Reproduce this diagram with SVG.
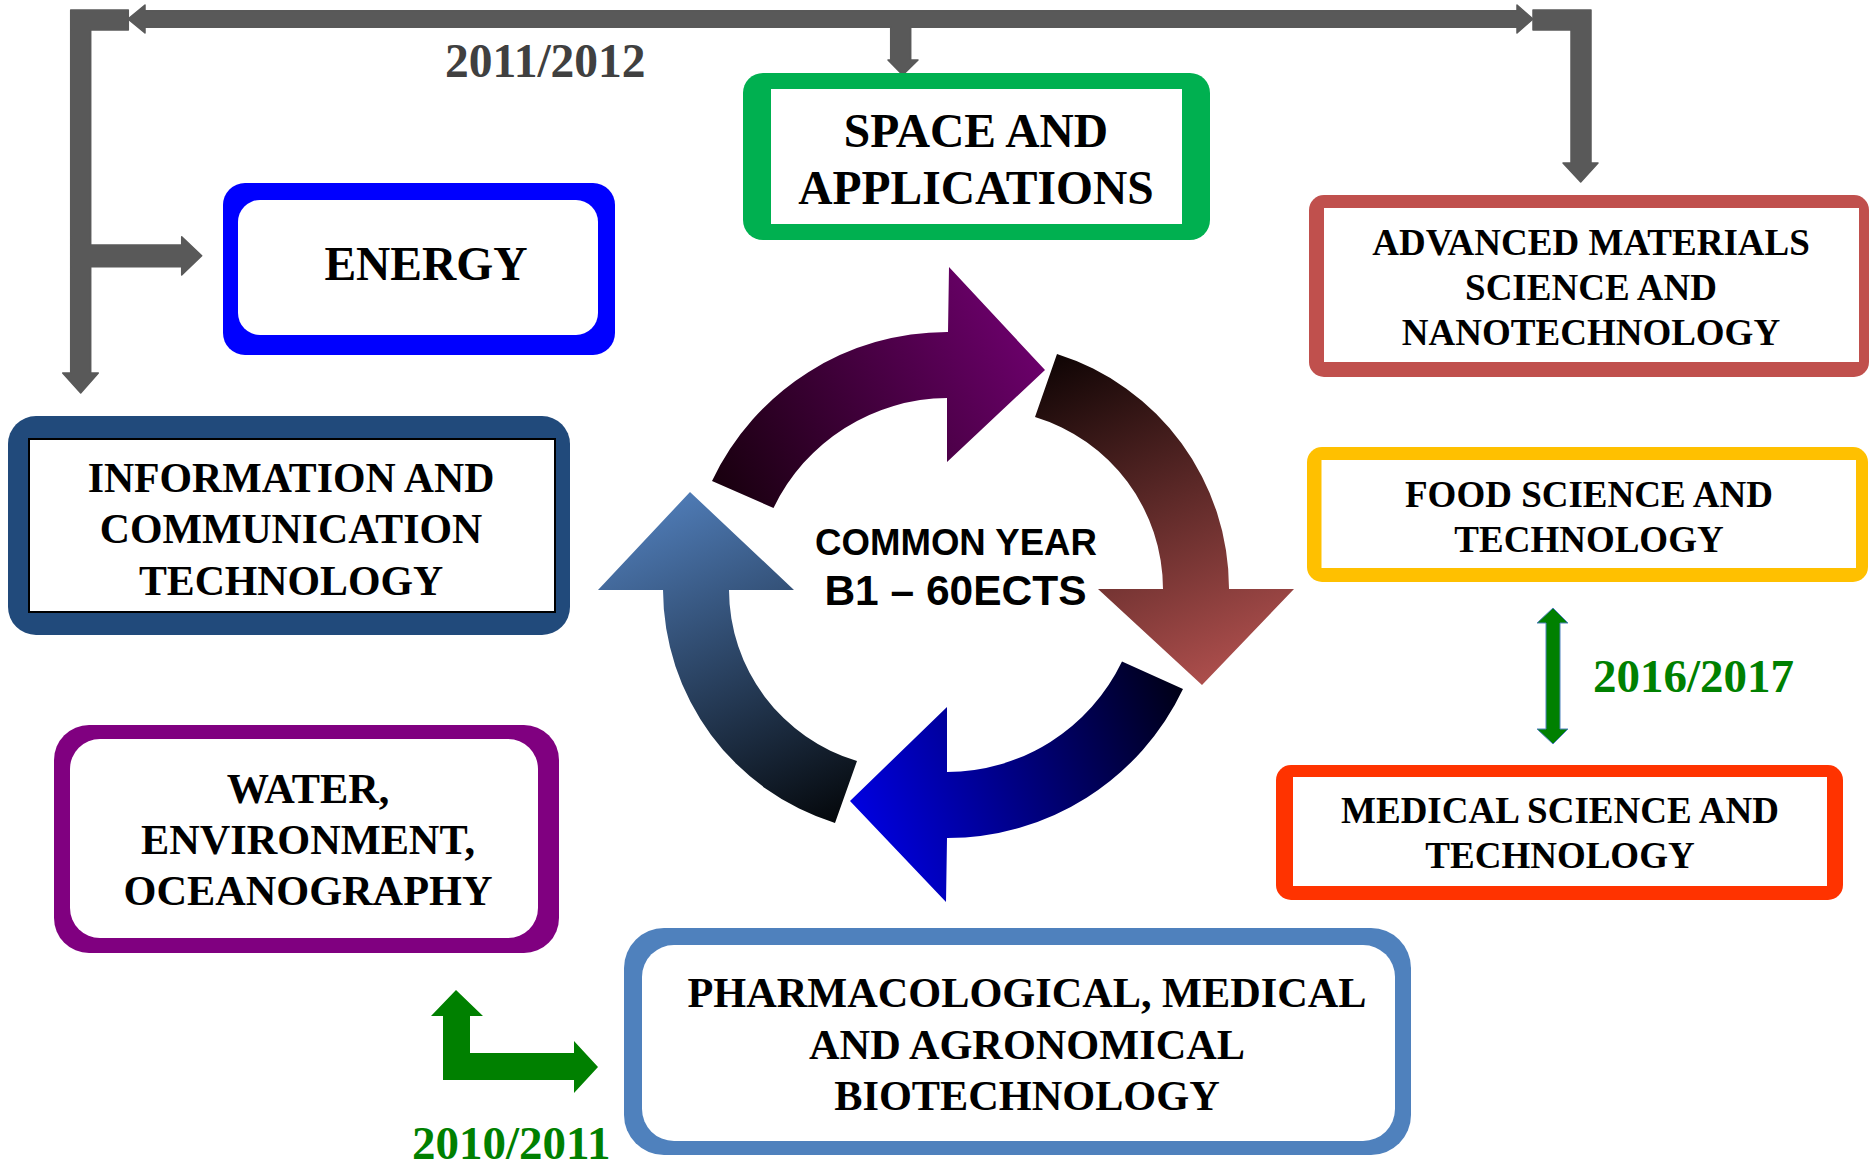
<svg xmlns="http://www.w3.org/2000/svg" width="1870" height="1163" viewBox="0 0 1870 1163">
<style>
.lbl{font-family:"Liberation Serif","Times New Roman",serif;font-weight:bold;fill:#000;text-anchor:middle}
.yr{font-family:"Liberation Serif","Times New Roman",serif;font-weight:bold;text-anchor:start}
.ctr{font-family:"Liberation Sans",Arial,sans-serif;font-weight:bold;fill:#000;text-anchor:middle}
.gray{fill:#595959;stroke:#595959;stroke-width:1.5;stroke-linejoin:round}
.inner{fill:#fff}
</style>
<defs>
<linearGradient id="gTop" gradientUnits="userSpaceOnUse" x1="720" y1="480" x2="1040" y2="300">
<stop offset="0" stop-color="#1a0010"/><stop offset="1" stop-color="#720072"/>
</linearGradient>
<linearGradient id="gRight" gradientUnits="userSpaceOnUse" x1="1050" y1="350" x2="1200" y2="685">
<stop offset="0" stop-color="#0c0303"/><stop offset="1" stop-color="#ac4e4c"/>
</linearGradient>
<linearGradient id="gBottom" gradientUnits="userSpaceOnUse" x1="1183" y1="680" x2="850" y2="800">
<stop offset="0" stop-color="#000014"/><stop offset="1" stop-color="#0000e0"/>
</linearGradient>
<linearGradient id="gLeft" gradientUnits="userSpaceOnUse" x1="840" y1="823" x2="690" y2="492">
<stop offset="0" stop-color="#04070a"/><stop offset="1" stop-color="#4e7ab4"/>
</linearGradient>
</defs>

<g id="connectors">
<polygon class="gray" points="128,19 145,5 145,10.7 1517,10.7 1517,5 1533,19 1517,33 1517,27.3 910.7,27.3 910.7,60 918,60 902.7,75 888,60 890.7,60 890.7,27.3 145,27.3 145,33"/>
<polygon class="gray" points="70.7,10 128.3,10 128.3,30 90.7,30 90.7,245 181.7,245 181.7,236.7 201.7,255.7 181.7,275 181.7,266.7 90.7,266.7 90.7,373 98.3,373 80.7,393 62.7,373 70.7,373"/>
<polygon class="gray" points="1533,10 1591,10 1591,163 1598,163 1580.7,182 1563,163 1571,163 1571,30 1533,30"/>
<polygon fill="#008000" stroke="#4f81bd" stroke-width="1" points="1553,608 1568,623 1560,623 1560,729 1568,729 1553,744 1537,729 1546,729 1546,623 1537,623"/>
<polygon fill="#008000" points="456,990 483,1016 470,1016 470,1053 574,1053 574,1041 598,1067 574,1093 574,1080 443,1080 443,1016 431,1016"/>
<text class="yr" x="445" y="77" font-size="47.5" fill="#404040">2011/2012</text>
<text class="yr" x="1593" y="692" font-size="47" fill="#008000">2016/2017</text>
<text class="yr" x="412" y="1159" font-size="47" fill="#008000">2010/2011</text>
</g>

<g id="cycle">
<path fill="url(#gTop)" d="M712,481 A260,260 0 0 1 948,332 L949,267 L1045,370 L947,462 L947,398 A194,194 0 0 0 773.5,508 Z"/>
<path fill="url(#gRight)" d="M1057,354 A246,246 0 0 1 1229,589 L1294,589 L1202,685 L1098,589 L1163,589 A180,180 0 0 0 1035,417 Z"/>
<path fill="url(#gBottom)" d="M1183,689 A261,261 0 0 1 947,838 L946,902 L850,801 L947,707 L947,772 A195,195 0 0 0 1122,661.5 Z"/>
<path fill="url(#gLeft)" d="M835,823 A245,245 0 0 1 663,590 L598,590 L690,492 L794,590 L729,590 A179,179 0 0 0 857,761 Z"/>
<text class="ctr" x="956" y="555" font-size="36.6">COMMON YEAR</text>
<text class="ctr" x="955.5" y="605" font-size="42.5">B1 – 60ECTS</text>
</g>

<g id="energy">
<rect x="223" y="183" width="392" height="172" rx="22" fill="#0000ff"/>
<rect class="inner" x="238" y="200" width="360" height="135" rx="22"/>
<text class="lbl" x="426" y="280" font-size="47.5">ENERGY</text>
</g>

<g id="space">
<rect x="743" y="73" width="467" height="167" rx="20" fill="#00b050"/>
<rect class="inner" x="771" y="89" width="411" height="135"/>
<text class="lbl" x="976" y="147" font-size="47.5">SPACE AND</text>
<text class="lbl" x="976" y="204" font-size="47.5">APPLICATIONS</text>
</g>

<g id="advanced">
<rect x="1309" y="195" width="560" height="182" rx="15" fill="#c0504d"/>
<rect class="inner" x="1324" y="208" width="535" height="154"/>
<text class="lbl" x="1591" y="255" font-size="37">ADVANCED MATERIALS</text>
<text class="lbl" x="1591" y="300" font-size="37">SCIENCE AND</text>
<text class="lbl" x="1591" y="345" font-size="37">NANOTECHNOLOGY</text>
</g>

<g id="food">
<rect x="1307" y="447" width="561" height="135" rx="15" fill="#ffc000"/>
<rect class="inner" x="1321.5" y="460" width="534.5" height="108"/>
<text class="lbl" x="1589" y="507" font-size="37">FOOD SCIENCE AND</text>
<text class="lbl" x="1589" y="552" font-size="37">TECHNOLOGY</text>
</g>

<g id="medical">
<rect x="1276" y="765" width="567" height="135" rx="15" fill="#ff3300"/>
<rect class="inner" x="1293" y="777" width="534" height="109"/>
<text class="lbl" x="1560" y="823" font-size="37">MEDICAL SCIENCE AND</text>
<text class="lbl" x="1560" y="868" font-size="37">TECHNOLOGY</text>
</g>

<g id="ict">
<rect x="8" y="416" width="562" height="219" rx="28" fill="#214a7b"/>
<rect class="inner" x="29" y="439" width="526" height="173" stroke="#000" stroke-width="2"/>
<text class="lbl" x="291" y="492" font-size="41.8">INFORMATION AND</text>
<text class="lbl" x="291" y="543" font-size="41.8">COMMUNICATION</text>
<text class="lbl" x="291" y="595" font-size="41.8">TECHNOLOGY</text>
</g>

<g id="water">
<rect x="54" y="725" width="505" height="228" rx="35" fill="#800080"/>
<rect class="inner" x="70" y="739" width="468" height="199" rx="30"/>
<text class="lbl" x="308" y="803" font-size="42.3">WATER,</text>
<text class="lbl" x="308" y="854" font-size="42.3">ENVIRONMENT,</text>
<text class="lbl" x="308" y="905" font-size="42.3">OCEANOGRAPHY</text>
</g>

<g id="pharma">
<rect x="624" y="928" width="787" height="227" rx="40" fill="#4f81bd"/>
<rect class="inner" x="642" y="945" width="753" height="196" rx="32"/>
<text class="lbl" x="1027" y="1007" font-size="42.3">PHARMACOLOGICAL, MEDICAL</text>
<text class="lbl" x="1027" y="1059" font-size="42.3">AND AGRONOMICAL</text>
<text class="lbl" x="1027" y="1110" font-size="42.3">BIOTECHNOLOGY</text>
</g>
</svg>
